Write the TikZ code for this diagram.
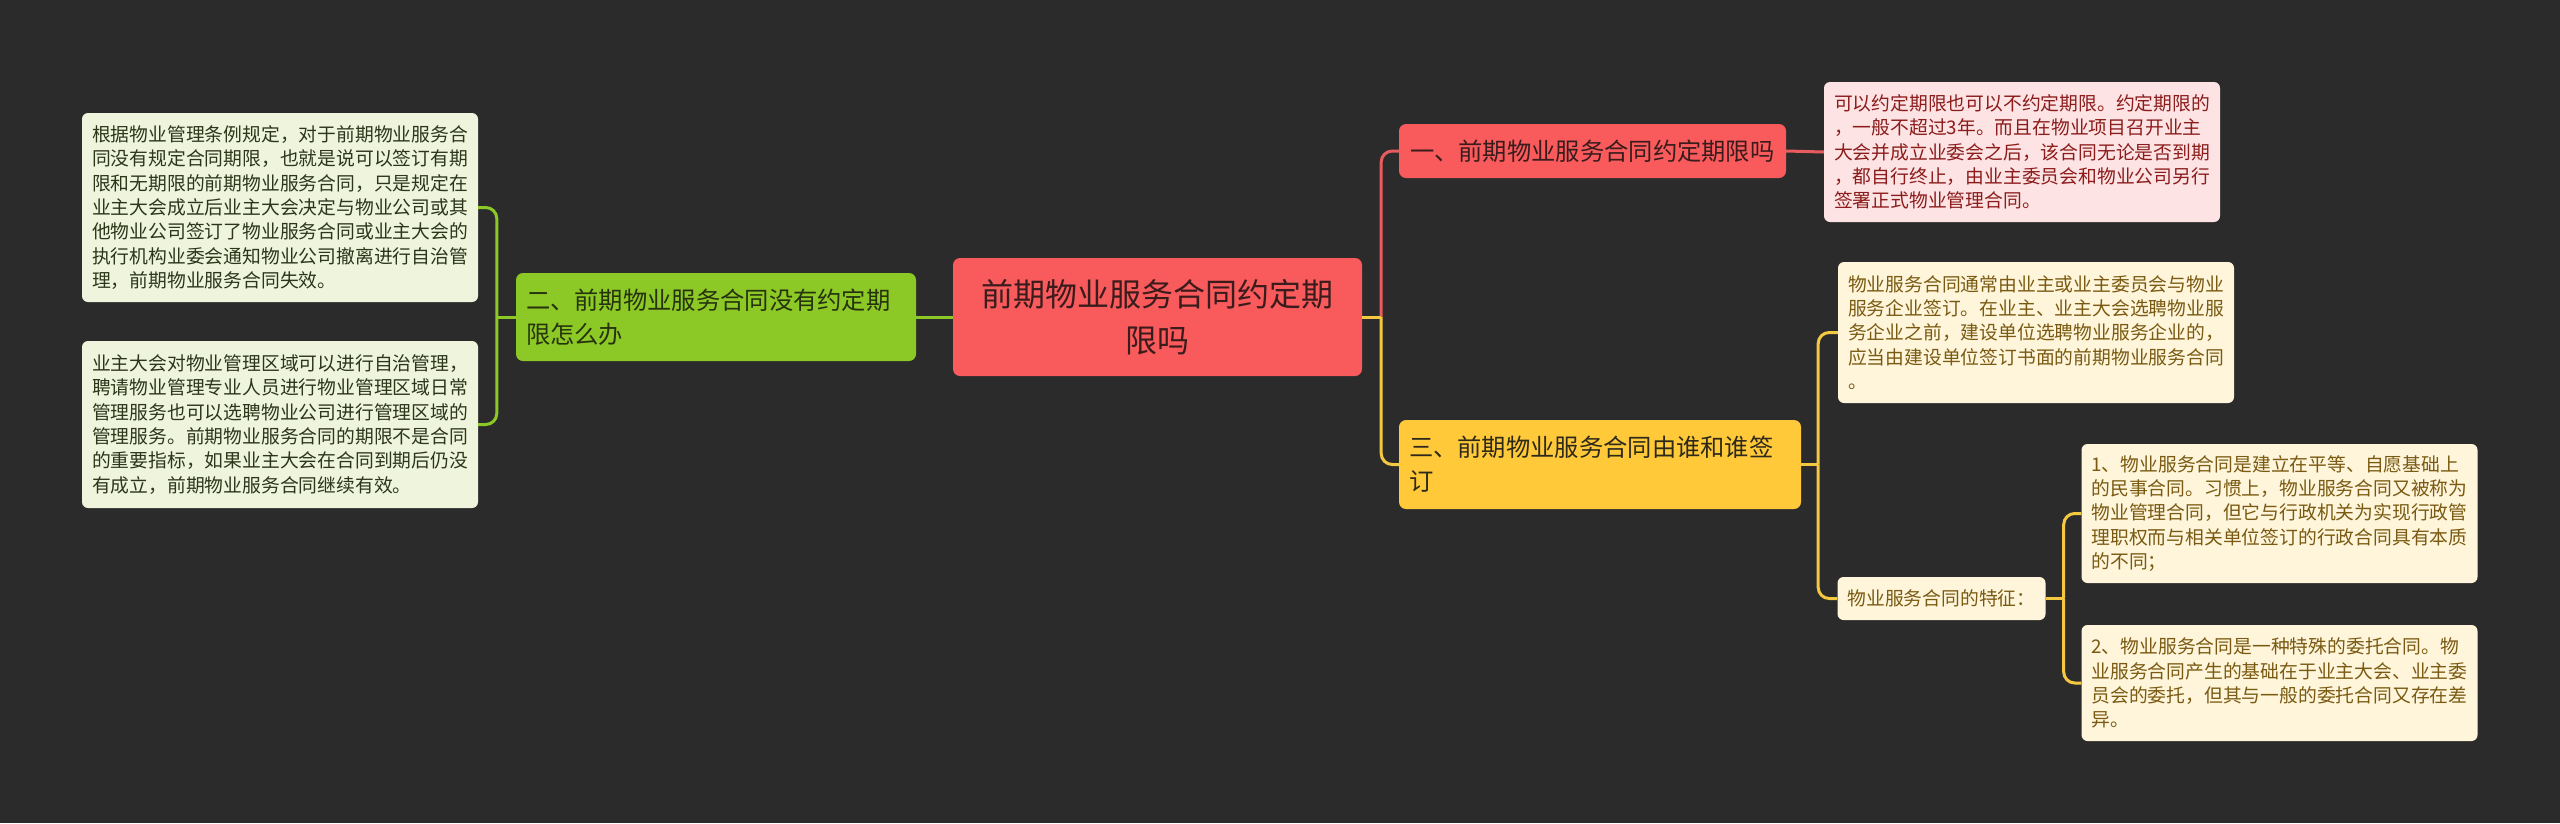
\documentclass[tikz,border=0pt]{standalone}
\usepackage{fontspec}
\setmainfont{Noto Sans CJK SC}
\definecolor{bgc}{HTML}{2B2B2B}
\definecolor{redc}{HTML}{F95A5C}
\definecolor{redl}{HTML}{E85C5F}
\definecolor{redt}{HTML}{3A1C1C}
\definecolor{pinkc}{HTML}{FDE3E3}
\definecolor{pinkt}{HTML}{8C1C1C}
\definecolor{greenc}{HTML}{8CC826}
\definecolor{greent}{HTML}{26330E}
\definecolor{greenleaf}{HTML}{EEF5DC}
\definecolor{greenleaft}{HTML}{2C3619}
\definecolor{yelc}{HTML}{FFC93A}
\definecolor{yell}{HTML}{F5C842}
\definecolor{yelt}{HTML}{2E2A1A}
\definecolor{yelleaf}{HTML}{FEF5DA}
\definecolor{yelleaft}{HTML}{7A5A12}

\begin{document}
\begin{tikzpicture}[x=1pt,y=-1pt,
    box/.style={rounded corners=7pt, inner ysep=0pt, align=left},
    topic/.style={box, inner xsep=10pt, font=\fontsize{24.3}{34}\selectfont},
    leaf/.style={box, rounded corners=6pt, inner xsep=10pt, text width=376pt,
      font=\fontsize{18.8}{24.3}\selectfont},
    redline/.style={redl, line width=3pt, rounded corners=11pt},
    yline/.style={yell, line width=3pt, rounded corners=11pt},
    gline/.style={greenc, line width=3pt, rounded corners=11pt}]
    \fill[bgc] (0,0) rectangle (2560,823);
    \useasboundingbox (0,0) rectangle (2560,823);

    \node[box, fill=redc, text=redt, align=center, inner xsep=14pt, text width=381pt,
      minimum height=118pt, font=\fontsize{32}{46}\selectfont]
      (center) at (1157.5,317) {前期物业服务合同约定期\\限吗};

    \node[topic, fill=greenc, text=greent, text width=380pt, minimum height=88pt]
      (two) at (716,317) {二、前期物业服务合同没有约定期\\限怎么办};
    \node[topic, fill=redc, text=redt, text width=365pt, inner xsep=11pt, minimum height=54pt]
      (one) at (1592.5,151) {一、前期物业服务合同约定期限吗};
    \node[topic, fill=yelc, text=yelt, text width=382pt, minimum height=89pt]
      (three) at (1600,464.5) {三、前期物业服务合同由谁和谁签\\订};

    \node[leaf, fill=greenleaf, text=greenleaft, minimum height=189pt] (ltop) at (280,207.5)
      {根据物业管理条例规定，对于前期物业服务合\\
       同没有规定合同期限，也就是说可以签订有期\\
       限和无期限的前期物业服务合同，只是规定在\\
       业主大会成立后业主大会决定与物业公司或其\\
       他物业公司签订了物业服务合同或业主大会的\\
       执行机构业委会通知物业公司撤离进行自治管\\
       理，前期物业服务合同失效。};
    \node[leaf, fill=greenleaf, text=greenleaft, minimum height=167pt] (lbot) at (280,424.5)
      {业主大会对物业管理区域可以进行自治管理，\\
       聘请物业管理专业人员进行物业管理区域日常\\
       管理服务也可以选聘物业公司进行管理区域的\\
       管理服务。前期物业服务合同的期限不是合同\\
       的重要指标，如果业主大会在合同到期后仍没\\
       有成立，前期物业服务合同继续有效。};

    \node[leaf, fill=pinkc, text=pinkt, minimum height=140pt] (pink) at (2022,152)
      {可以约定期限也可以不约定期限。约定期限的\\
       ，一般不超过3年。而且在物业项目召开业主\\
       大会并成立业委会之后，该合同无论是否到期\\
       ，都自行终止，由业主委员会和物业公司另行\\
       签署正式物业管理合同。};

    \node[leaf, fill=yelleaf, text=yelleaft, minimum height=141pt] (sign) at (2036,332.5)
      {物业服务合同通常由业主或业主委员会与物业\\
       服务企业签订。在业主、业主大会选聘物业服\\
       务企业之前，建设单位选聘物业服务企业的，\\
       应当由建设单位签订书面的前期物业服务合同\\
       。};
    \node[leaf, fill=yelleaf, text=yelleaft, text width=188pt, minimum height=43pt]
      (feat) at (1941.5,598.5) {物业服务合同的特征：};
    \node[leaf, fill=yelleaf, text=yelleaft, minimum height=139pt] (featone) at (2279.5,513.5)
      {1、物业服务合同是建立在平等、自愿基础上\\
       的民事合同。习惯上，物业服务合同又被称为\\
       物业管理合同，但它与行政机关为实现行政管\\
       理职权而与相关单位签订的行政合同具有本质\\
       的不同；};
    \node[leaf, fill=yelleaf, text=yelleaft, minimum height=116pt] (feattwo) at (2279.5,683)
      {2、物业服务合同是一种特殊的委托合同。物\\
       业服务合同产生的基础在于业主大会、业主委\\
       员会的委托，但其与一般的委托合同又存在差\\
       异。};

    \coordinate (jc) at ([xshift=19pt]center.east);
    \coordinate (jl) at ([xshift=-19pt]two.west);
    \coordinate (jt) at ([xshift=17pt]three.east);
    \coordinate (jf) at ([xshift=18pt]feat.east);

    \draw[redline] (jc) |- (one.west);
    \draw[redline] (one.east) -- (pink.west);
    \draw[yline] (center.east) -- (jc);
    \draw[yline] (jc) |- (three.west);
    \draw[gline] (center.west) -- (two.east);
    \draw[gline] (two.west) -- (jl);
    \foreach \n in {ltop, lbot}
      \draw[gline] (jl) |- (\n.east);
    \draw[yline] (three.east) -- (jt);
    \foreach \n in {sign, feat}
      \draw[yline] (jt) |- (\n.west);
    \draw[yline] (feat.east) -- (jf);
    \foreach \n in {featone, feattwo}
      \draw[yline] (jf) |- (\n.west);
\end{tikzpicture}
\end{document}
